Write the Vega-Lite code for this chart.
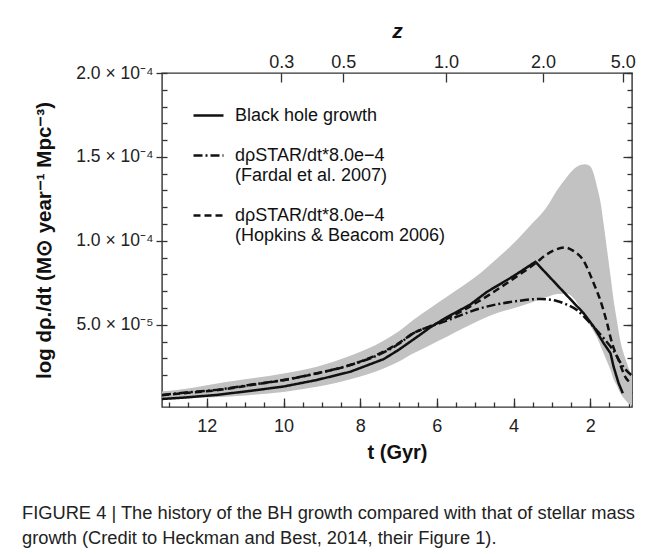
{
  "$schema": "https://vega.github.io/schema/vega-lite/v6.json",
  "width": 470,
  "height": 334,
  "autosize": {"type": "none"},
  "padding": {"left": 162, "top": 73, "right": 22, "bottom": 147},
  "background": "white",
  "config": {
    "view": {"stroke": "#333", "strokeWidth": 1.4},
    "font": "Liberation Sans",
    "axis": {"grid": false, "domain": false, "tickColor": "#333", "tickWidth": 1.3, "labelColor": "#222", "titleColor": "#111", "labelFont": "Liberation Sans", "titleFont": "Liberation Sans"},
    "legend": {"labelFont": "Liberation Sans"}
  },
  "title": {
    "text": ["FIGURE 4 | The history of the BH growth compared with that of stellar mass", "growth (Credit to Heckman and Best, 2014, their Figure 1)."],
    "orient": "bottom",
    "anchor": "start",
    "frame": "group",
    "dx": -140,
    "offset": 43,
    "fontSize": 18.3,
    "fontWeight": "normal",
    "font": "Liberation Sans",
    "lineHeight": 25,
    "color": "#222"
  },
  "datasets": {
    "band": [
      {"t": 13.17, "lo": 0.0000052, "hi": 0.0000102},
      {"t": 12.5, "lo": 0.0000060, "hi": 0.0000120},
      {"t": 12.0, "lo": 0.0000066, "hi": 0.0000140},
      {"t": 11.0, "lo": 0.0000079, "hi": 0.0000175},
      {"t": 10.0, "lo": 0.0000100, "hi": 0.0000210},
      {"t": 9.13, "lo": 0.0000130, "hi": 0.0000250},
      {"t": 8.26, "lo": 0.0000175, "hi": 0.0000315},
      {"t": 7.39, "lo": 0.0000240, "hi": 0.0000405},
      {"t": 7.0, "lo": 0.0000280, "hi": 0.0000460},
      {"t": 6.61, "lo": 0.0000330, "hi": 0.0000530},
      {"t": 6.17, "lo": 0.0000380, "hi": 0.0000600},
      {"t": 5.74, "lo": 0.0000429, "hi": 0.0000667},
      {"t": 5.3, "lo": 0.0000480, "hi": 0.0000735},
      {"t": 4.87, "lo": 0.0000529, "hi": 0.0000807},
      {"t": 4.43, "lo": 0.0000570, "hi": 0.0000895},
      {"t": 4.0, "lo": 0.0000598, "hi": 0.0000985},
      {"t": 3.57, "lo": 0.0000630, "hi": 0.0001090},
      {"t": 3.13, "lo": 0.0000665, "hi": 0.0001203},
      {"t": 2.87, "lo": 0.0000683, "hi": 0.0001300},
      {"t": 2.61, "lo": 0.0000685, "hi": 0.0001380},
      {"t": 2.44, "lo": 0.0000660, "hi": 0.0001425},
      {"t": 2.26, "lo": 0.0000600, "hi": 0.0001452},
      {"t": 2.13, "lo": 0.0000540, "hi": 0.0001457},
      {"t": 2.0, "lo": 0.0000495, "hi": 0.0001445},
      {"t": 1.91, "lo": 0.0000460, "hi": 0.0001400},
      {"t": 1.83, "lo": 0.0000429, "hi": 0.0001330},
      {"t": 1.74, "lo": 0.0000380, "hi": 0.0001240},
      {"t": 1.65, "lo": 0.0000330, "hi": 0.0001100},
      {"t": 1.56, "lo": 0.0000280, "hi": 0.0000945},
      {"t": 1.47, "lo": 0.0000231, "hi": 0.0000790},
      {"t": 1.39, "lo": 0.0000175, "hi": 0.0000648},
      {"t": 1.3, "lo": 0.0000135, "hi": 0.0000520},
      {"t": 1.22, "lo": 0.0000095, "hi": 0.0000410},
      {"t": 1.13, "lo": 0.0000065, "hi": 0.0000330},
      {"t": 1.04, "lo": 0.0000040, "hi": 0.0000270},
      {"t": 0.96, "lo": 0.0000025, "hi": 0.0000220},
      {"t": 0.91, "lo": 0.0000020, "hi": 0.0000200}
    ],
    "lines": [
      {"series": "BH", "t": 13.17, "v": 0.0000058},
      {"series": "BH", "t": 12.61, "v": 0.0000066},
      {"series": "BH", "t": 11.74, "v": 0.0000082},
      {"series": "BH", "t": 10.87, "v": 0.0000106},
      {"series": "BH", "t": 10.0, "v": 0.0000132},
      {"series": "BH", "t": 9.13, "v": 0.0000171},
      {"series": "BH", "t": 8.26, "v": 0.0000220},
      {"series": "BH", "t": 7.39, "v": 0.0000295},
      {"series": "BH", "t": 7.0, "v": 0.0000350},
      {"series": "BH", "t": 6.44, "v": 0.0000440},
      {"series": "BH", "t": 6.17, "v": 0.0000485},
      {"series": "BH", "t": 5.74, "v": 0.0000545},
      {"series": "BH", "t": 5.13, "v": 0.0000620},
      {"series": "BH", "t": 4.7, "v": 0.0000695},
      {"series": "BH", "t": 4.0, "v": 0.0000790},
      {"series": "BH", "t": 3.43, "v": 0.0000875},
      {"series": "BH", "t": 2.17, "v": 0.0000568},
      {"series": "BH", "t": 1.91, "v": 0.0000489},
      {"series": "BH", "t": 1.65, "v": 0.0000390},
      {"series": "BH", "t": 1.47, "v": 0.0000330},
      {"series": "BH", "t": 1.39, "v": 0.0000250},
      {"series": "BH", "t": 1.26, "v": 0.0000152},
      {"series": "BH", "t": 1.15, "v": 0.0000092},
      {"series": "Fardal", "t": 13.17, "v": 0.0000082},
      {"series": "Fardal", "t": 12.61, "v": 0.0000095},
      {"series": "Fardal", "t": 11.74, "v": 0.0000112},
      {"series": "Fardal", "t": 10.87, "v": 0.0000142},
      {"series": "Fardal", "t": 10.0, "v": 0.0000171},
      {"series": "Fardal", "t": 9.13, "v": 0.0000211},
      {"series": "Fardal", "t": 8.26, "v": 0.0000260},
      {"series": "Fardal", "t": 7.39, "v": 0.0000335},
      {"series": "Fardal", "t": 7.0, "v": 0.0000385},
      {"series": "Fardal", "t": 6.61, "v": 0.0000450},
      {"series": "Fardal", "t": 6.17, "v": 0.0000490},
      {"series": "Fardal", "t": 5.74, "v": 0.0000525},
      {"series": "Fardal", "t": 5.57, "v": 0.0000540},
      {"series": "Fardal", "t": 4.87, "v": 0.0000598},
      {"series": "Fardal", "t": 4.0, "v": 0.0000638},
      {"series": "Fardal", "t": 3.3, "v": 0.0000654},
      {"series": "Fardal", "t": 2.87, "v": 0.0000642},
      {"series": "Fardal", "t": 2.61, "v": 0.0000620},
      {"series": "Fardal", "t": 2.35, "v": 0.0000588},
      {"series": "Fardal", "t": 2.0, "v": 0.0000509},
      {"series": "Fardal", "t": 1.65, "v": 0.0000420},
      {"series": "Fardal", "t": 1.39, "v": 0.0000345},
      {"series": "Fardal", "t": 1.17, "v": 0.0000260},
      {"series": "Fardal", "t": 0.93, "v": 0.0000200},
      {"series": "Hopkins", "t": 13.17, "v": 0.0000080},
      {"series": "Hopkins", "t": 12.61, "v": 0.0000092},
      {"series": "Hopkins", "t": 11.74, "v": 0.0000110},
      {"series": "Hopkins", "t": 10.87, "v": 0.0000140},
      {"series": "Hopkins", "t": 10.0, "v": 0.0000170},
      {"series": "Hopkins", "t": 9.13, "v": 0.0000210},
      {"series": "Hopkins", "t": 8.26, "v": 0.0000260},
      {"series": "Hopkins", "t": 7.39, "v": 0.0000340},
      {"series": "Hopkins", "t": 7.0, "v": 0.0000390},
      {"series": "Hopkins", "t": 6.61, "v": 0.0000450},
      {"series": "Hopkins", "t": 6.17, "v": 0.0000492},
      {"series": "Hopkins", "t": 5.74, "v": 0.0000535},
      {"series": "Hopkins", "t": 4.87, "v": 0.0000645},
      {"series": "Hopkins", "t": 4.0, "v": 0.0000775},
      {"series": "Hopkins", "t": 3.43, "v": 0.0000866},
      {"series": "Hopkins", "t": 3.13, "v": 0.0000920},
      {"series": "Hopkins", "t": 2.87, "v": 0.0000950},
      {"series": "Hopkins", "t": 2.65, "v": 0.0000960},
      {"series": "Hopkins", "t": 2.44, "v": 0.0000940},
      {"series": "Hopkins", "t": 2.17, "v": 0.0000880},
      {"series": "Hopkins", "t": 1.91, "v": 0.0000747},
      {"series": "Hopkins", "t": 1.74, "v": 0.0000648},
      {"series": "Hopkins", "t": 1.56, "v": 0.0000509},
      {"series": "Hopkins", "t": 1.43, "v": 0.0000390},
      {"series": "Hopkins", "t": 1.26, "v": 0.0000290},
      {"series": "Hopkins", "t": 1.09, "v": 0.0000191},
      {"series": "Hopkins", "t": 0.93, "v": 0.0000150}
    ]
  },
  "resolve": {"axis": {"x": "independent", "y": "independent"}},
  "layer": [
    {
      "data": {"name": "band"},
      "mark": {"type": "area", "color": "#c2c2c2", "clip": true, "interpolate": "monotone"},
      "encoding": {
        "x": {"field": "t", "type": "quantitative",
              "scale": {"domain": [0.91, 13.17], "reverse": true, "nice": false, "zero": false},
              "axis": {"orient": "bottom", "values": [12, 10, 8, 6, 4, 2], "ticks": false, "labelPadding": 10, "labelFontSize": 18, "title": "t (Gyr)", "titleFontSize": 20, "titleFontWeight": "bold", "titlePadding": 7}},
        "y": {"field": "lo", "type": "quantitative",
              "scale": {"domain": [0.000001, 0.0002], "nice": false, "zero": false},
              "axis": {"orient": "left", "values": [0.00005, 0.0001, 0.00015, 0.0002], "ticks": false, "labelPadding": 9, "labelFontSize": 17.5,
                       "labelExpr": "datum.value < 0.00007 ? '5.0 × 10⁻⁵' : datum.value < 0.00012 ? '1.0 × 10⁻⁴' : datum.value < 0.00017 ? '1.5 × 10⁻⁴' : '2.0 × 10⁻⁴'",
                       "title": "log dρ./dt (M⊙ year⁻¹ Mpc⁻³)", "titleFontSize": 20.5, "titleFontWeight": "bold", "titlePadding": 21}},
        "y2": {"field": "hi"}
      }
    },
    {
      "data": {"name": "lines"},
      "transform": [{"filter": "datum.series != 'BH'"}],
      "mark": {"type": "line", "color": "#111", "strokeWidth": 2.5, "clip": true, "interpolate": "monotone"},
      "encoding": {
        "x": {"field": "t", "type": "quantitative",
              "scale": {"domain": [0.91, 13.17], "reverse": true, "nice": false, "zero": false},
              "axis": {"orient": "bottom", "offset": -5, "tickSize": 5, "labels": false, "title": null,
                       "values": [13, 12.5, 12, 11.5, 11, 10.5, 10, 9.5, 9, 8.5, 8, 7.5, 7, 6.5, 6, 5.5, 5, 4.5, 4, 3.5, 3, 2.5, 2, 1.5, 1]}},
        "y": {"field": "v", "type": "quantitative",
              "scale": {"domain": [0.000001, 0.0002], "nice": false, "zero": false},
              "axis": {"orient": "left", "offset": -5, "tickSize": 5, "labels": false, "title": null,
                       "values": [0.00001, 0.00002, 0.00003, 0.00004, 0.00005, 0.00006, 0.00007, 0.00008, 0.00009, 0.0001, 0.00011, 0.00012, 0.00013, 0.00014, 0.00015, 0.00016, 0.00017, 0.00018, 0.00019, 0.0002]}},
        "strokeDash": {"field": "series", "type": "nominal",
                       "scale": {"domain": ["BH", "Fardal", "Hopkins"], "range": [[1, 0], [9, 3, 2, 3], [7, 4]]}}
      }
    },
    {
      "data": {"name": "lines"},
      "transform": [{"filter": "datum.series == 'BH'"}],
      "mark": {"type": "line", "color": "#111", "strokeWidth": 2.5, "clip": true},
      "encoding": {
        "x": {"field": "t", "type": "quantitative",
              "scale": {"domain": [0.91, 13.17], "reverse": true, "nice": false, "zero": false},
              "axis": {"orient": "bottom", "offset": -9, "tickSize": 9, "labels": false, "title": null, "values": [12, 10, 8, 6, 4, 2]}},
        "y": {"field": "v", "type": "quantitative",
              "scale": {"domain": [0.000001, 0.0002], "nice": false, "zero": false},
              "axis": {"orient": "left", "tickSize": 6, "labels": false, "title": null, "values": [0.00005, 0.0001, 0.00015, 0.0002]}},
        "strokeDash": {"field": "series", "type": "nominal",
                       "scale": {"domain": ["BH", "Fardal", "Hopkins"], "range": [[1, 0], [9, 3, 2, 3], [7, 4]]},
                       "legend": {"orient": "none", "legendX": 30, "legendY": 26, "title": null, "symbolType": "stroke", "symbolSize": 900, "symbolStrokeWidth": 2.5, "symbolStrokeColor": "#111", "labelFontSize": 18, "labelColor": "#111", "labelOffset": 10, "rowPadding": 14, "labelLimit": 0,
                                  "values": ["BH", "Fardal", "Hopkins"],
                                  "labelExpr": "datum.value == 'BH' ? 'Black hole growth' : datum.value == 'Fardal' ? ['dρSTAR/dt*8.0e−4', '(Fardal et al. 2007)'] : ['dρSTAR/dt*8.0e−4', '(Hopkins & Beacom 2006)']"}}
      }
    },
    {
      "data": {"name": "band"},
      "mark": {"type": "point", "opacity": 0},
      "encoding": {
        "x": {"field": "t", "type": "quantitative",
              "scale": {"domain": [0.91, 13.17], "reverse": true, "nice": false, "zero": false},
              "axis": {"orient": "top", "offset": -9, "tickSize": 9, "labelPadding": 2, "labelFontSize": 18, "values": [10.06, 8.44, 5.76, 3.23, 1.15],
                       "labelExpr": "datum.value > 9 ? '0.3' : datum.value > 7 ? '0.5' : datum.value > 4 ? '1.0' : datum.value > 2 ? '2.0' : '5.0'",
                       "title": "z", "titleFontSize": 21, "titleFontWeight": "bold", "titleFontStyle": "italic", "titlePadding": 12}},
        "y": {"field": "hi", "type": "quantitative",
              "scale": {"domain": [0.000001, 0.0002], "nice": false, "zero": false},
              "axis": {"orient": "right", "offset": -5, "tickSize": 5, "labels": false, "title": null,
                       "values": [0.00001, 0.00002, 0.00003, 0.00004, 0.00005, 0.00006, 0.00007, 0.00008, 0.00009, 0.0001, 0.00011, 0.00012, 0.00013, 0.00014, 0.00015, 0.00016, 0.00017, 0.00018, 0.00019, 0.0002]}}
      }
    },
    {
      "data": {"name": "band"},
      "mark": {"type": "point", "opacity": 0},
      "encoding": {
        "x": {"field": "t", "type": "quantitative",
              "scale": {"domain": [0.91, 13.17], "reverse": true, "nice": false, "zero": false},
              "axis": null},
        "y": {"field": "hi", "type": "quantitative",
              "scale": {"domain": [0.000001, 0.0002], "nice": false, "zero": false},
              "axis": {"orient": "right", "offset": -9, "tickSize": 9, "labels": false, "title": null, "values": [0.00005, 0.0001, 0.00015, 0.0002]}}
      }
    }
  ]
}
